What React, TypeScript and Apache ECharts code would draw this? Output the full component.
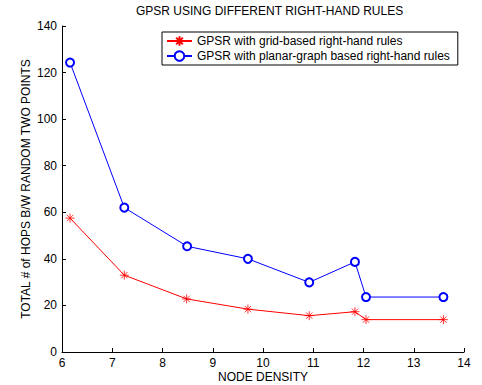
import React, { useEffect, useRef } from "react";
import * as echarts from "echarts";

const titleText = "GPSR USING DIFFERENT RIGHT-HAND RULES";
const xName = "NODE DENSITY";
const yName = "TOTAL # of HOPS B/W RANDOM TWO POINTS";
const seriesNames = [
  "GPSR with grid-based right-hand rules",
  "GPSR with planar-graph based right-hand rules",
];
const gridX = [6.16, 7.24, 8.48, 9.7, 10.92, 11.83, 12.05, 13.59];
const gridY = [57.5, 33, 22.8, 18.4, 15.6, 17.3, 13.9, 13.9];
const planarX = [6.16, 7.24, 8.49, 9.7, 10.92, 11.83, 12.05, 13.59];
const planarY = [124.3, 62, 45.4, 40, 29.9, 38.7, 23.6, 23.6];

const asterisk =
  "path://M0,5 L10,5 M5,0 L5,10 M1.5,1.5 L8.5,8.5 M1.5,8.5 L8.5,1.5";

export default function App() {
  const ref = useRef<HTMLDivElement>(null);
  useEffect(() => {
    if (!ref.current) return;
    const chart = echarts.init(ref.current, undefined, { renderer: "svg" });
    const font = "Arial, 'Liberation Sans', sans-serif";
    chart.setOption({
      animation: false,
      backgroundColor: "#fff",
      textStyle: { fontFamily: font },
      title: {
        text: titleText,
        left: 131,
        top: 0,
        textStyle: { fontSize: 12, fontWeight: "normal", color: "#000", fontFamily: font },
      },
      legend: {
        orient: "vertical",
        left: 162,
        top: 32,
        itemWidth: 25,
        itemHeight: 12,
        itemGap: 3,
        padding: [3, 8, 3, 4],
        borderColor: "#000",
        borderWidth: 1,
        backgroundColor: "#fff",
        textStyle: { fontSize: 12, color: "#000", fontFamily: font },
        data: seriesNames,
      },
      grid: { left: 62, right: 18, top: 26, bottom: 33, outerBoundsMode: "none" },
      xAxis: {
        type: "value",
        min: 6,
        max: 14,
        interval: 1,
        name: xName,
        nameLocation: "middle",
        nameGap: 19,
        nameMoveOverlap: false,
        nameTextStyle: { fontSize: 12, color: "#000", fontFamily: font },
        axisLine: { lineStyle: { color: "#000" } },
        axisTick: { inside: true, length: 4, lineStyle: { color: "#000" } },
        axisLabel: { fontSize: 12, color: "#000", margin: 5, fontFamily: font },
        splitLine: { show: false },
      },
      yAxis: {
        type: "value",
        min: 0,
        max: 140,
        interval: 20,
        name: yName,
        nameLocation: "middle",
        nameGap: 30,
        nameMoveOverlap: false,
        nameTextStyle: { fontSize: 12, color: "#000", fontFamily: font },
        axisLine: { show: true, lineStyle: { color: "#000" } },
        axisTick: { show: true, inside: true, length: 4, lineStyle: { color: "#000" } },
        axisLabel: { fontSize: 12, color: "#000", margin: 5, fontFamily: font },
        splitLine: { show: false },
      },
      series: [
        {
          name: seriesNames[0],
          type: "line",
          data: gridX.map((x, i) => [x, gridY[i]]),
          symbol: asterisk,
          symbolSize: 9,
          lineStyle: { color: "#ff0000", width: 1 },
          itemStyle: { color: "#ff0000", borderColor: "#ff0000", borderWidth: 0.8 },
        },
        {
          name: seriesNames[1],
          type: "line",
          data: planarX.map((x, i) => [x, planarY[i]]),
          symbol: "emptyCircle",
          symbolSize: 8,
          lineStyle: { color: "#0000ff", width: 1 },
          itemStyle: { color: "#0000ff", borderColor: "#0000ff", borderWidth: 0.8 },
        },
      ],
    });
    return () => chart.dispose();
  }, []);
  return <div ref={ref} style={{ width: 482, height: 385, position: "absolute", left: 0, top: 0 }} />;
}
